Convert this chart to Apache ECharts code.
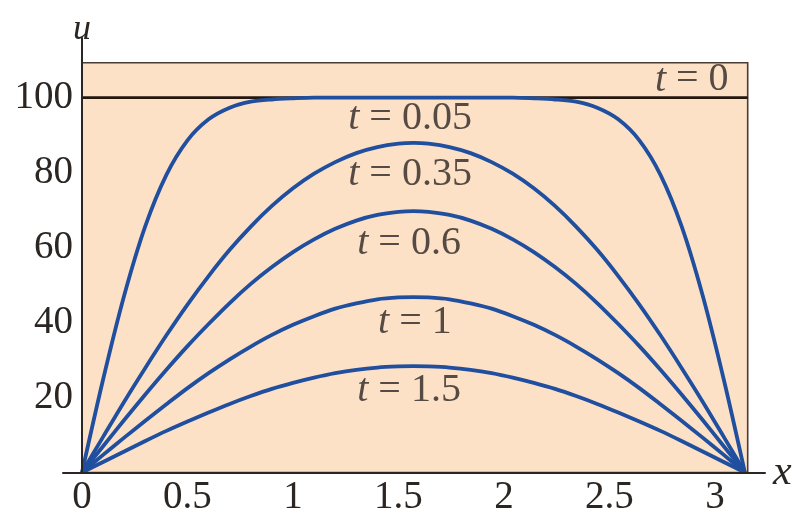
<!DOCTYPE html>
<html>
<head>
<meta charset="utf-8">
<script src="https://cdn.jsdelivr.net/npm/echarts@6/dist/echarts.min.js"></script>
<style>
  html, body { margin: 0; padding: 0; background: #ffffff; }
  #chart { width: 798px; height: 518px; }
</style>
</head>
<body>
<div id="chart"></div>
<script>
// Temperature u(x, t) along a rod 0 <= x <= pi, initial temperature 100
const xValues = [0, 0.1, 0.2, 0.3, 0.4, 0.5, 0.6, 0.7, 0.8, 0.9, 1.0, 1.1, 1.2, 1.3, 1.4, 1.5,
  1.5708,
  1.6416, 1.7416, 1.8416, 1.9416, 2.0416, 2.1416, 2.2416, 2.3416, 2.4416, 2.5416, 2.6416,
  2.7416, 2.8416, 2.9416, 3.0416, 3.1416];

const uT005 = [0, 24.8, 47.2, 65.7, 79.4, 88.6, 94.2, 97.3, 98.9, 99.5, 99.8, 100, 100, 100, 100, 100,
  100,
  100, 100, 100, 100, 100, 99.8, 99.5, 98.9, 97.3, 94.2, 88.6, 79.4, 65.7, 47.2, 24.8, 0];
const uT035 = [0, 9.5, 18.9, 27.9, 36.6, 44.8, 52.4, 59.4, 65.6, 71.1, 75.8, 79.7, 82.8, 85.2, 86.8, 87.7,
  87.9,
  87.7, 86.8, 85.2, 82.8, 79.7, 75.8, 71.1, 65.6, 59.4, 52.4, 44.8, 36.6, 27.9, 18.9, 9.5, 0];
const uT06 = [0, 7.0, 14.0, 20.8, 27.4, 33.7, 39.6, 45.2, 50.3, 54.8, 58.8, 62.2, 65.0, 67.2, 68.7, 69.5,
  69.7,
  69.5, 68.7, 67.2, 65.0, 62.2, 58.8, 54.8, 50.3, 45.2, 39.6, 33.7, 27.4, 20.8, 14.0, 7.0, 0];
const uT1 = [0, 4.7, 9.3, 13.8, 18.2, 22.5, 26.5, 30.2, 33.6, 36.7, 39.4, 41.7, 43.7, 45.1, 46.2, 46.7,
  46.8,
  46.7, 46.2, 45.1, 43.7, 41.7, 39.4, 36.7, 33.6, 30.2, 26.5, 22.5, 18.2, 13.8, 9.3, 4.7, 0];
const uT15 = [0, 2.8, 5.6, 8.4, 11.1, 13.6, 16.0, 18.3, 20.4, 22.3, 23.9, 25.3, 26.5, 27.4, 28.0, 28.3,
  28.4,
  28.3, 28.0, 27.4, 26.5, 25.3, 23.9, 22.3, 20.4, 18.3, 16.0, 13.6, 11.1, 8.4, 5.6, 2.8, 0];

const initialTemp = 100;
const timeLabels = ['0', '0.05', '0.35', '0.6', '1', '1.5'];
const xTickValues = [0, 0.5, 1, 1.5, 2, 2.5, 3];
const yTickValues = [20, 40, 60, 80, 100];

// ---- layout / styling ----
const FONT = "'Liberation Serif', 'Times New Roman', serif";
const TEXT_COLOR = '#2c2623';
const AXIS_COLOR = '#2b2623';
const CURVE_COLOR = '#1f4f9e';
const PANEL_COLOR = '#fce1c6';
const PANEL_X_MAX = 3.155;
const PANEL_Y_MAX = 109.3;
// where each curve's caption sits, in data units
const captionAnchors = [[2.89, 104.7], [1.555, 94.3], [1.555, 79.6], [1.55, 61.0], [1.578, 39.9], [1.55, 22.0]];

const curves = [uT005, uT035, uT06, uT1, uT15];

const pairs = ys => xValues.map((x, i) => [x, ys[i]]);

const series = [
  {
    name: 'panel',
    type: 'line',
    data: [],
    silent: true,
    z: 0,
    markArea: {
      silent: true,
      z: 0,
      itemStyle: { color: PANEL_COLOR, borderColor: '#4a3d35', borderWidth: 1.6 },
      data: [[{ coord: [0, 0] }, { coord: [PANEL_X_MAX, PANEL_Y_MAX] }]]
    }
  },
  {
    name: 't = 0',
    type: 'line',
    data: [[0, initialTemp], [PANEL_X_MAX, initialTemp]],
    symbol: 'none',
    lineStyle: { color: '#24170f', width: 2.6 },
    z: 3
  }
];

curves.forEach((ys, k) => {
  series.push({
    name: 't = ' + timeLabels[k + 1],
    type: 'line',
    data: pairs(ys),
    symbol: 'none',
    smooth: 0.3,
    lineStyle: { color: CURVE_COLOR, width: 3.8 },
    z: 4
  });
});

series.push({
  name: 'captions',
  type: 'scatter',
  symbolSize: 0,
  silent: true,
  z: 6,
  data: captionAnchors.map((c, i) => ({ value: c, caption: timeLabels[i] })),
  label: {
    show: true,
    position: 'inside',
    formatter: p => '{i|t} = ' + p.data.caption,
    fontFamily: FONT,
    fontSize: 40,
    color: TEXT_COLOR,
    rich: {
      i: { fontFamily: FONT, fontStyle: 'italic', fontSize: 40, color: TEXT_COLOR }
    }
  }
});

const chart = echarts.init(document.getElementById('chart'));
chart.setOption({
  animation: false,
  backgroundColor: '#ffffff',
  grid: { left: 63, right: 33, top: 38, bottom: 45.5, containLabel: false, outerBoundsMode: 'none' },
  xAxis: {
    type: 'value',
    min: -0.09,
    max: 3.237,
    z: 10,
    axisLine: { onZero: true, lineStyle: { color: AXIS_COLOR, width: 2 } },
    axisTick: { show: false },
    splitLine: { show: false },
    axisLabel: {
      customValues: xTickValues,
      margin: 6,
      fontFamily: FONT,
      fontSize: 39,
      color: TEXT_COLOR,
      formatter: v => String(v)
    },
    name: 'x',
    nameLocation: 'end',
    nameGap: 8,
    nameTextStyle: { fontFamily: FONT, fontStyle: 'italic', fontSize: 42, color: TEXT_COLOR, padding: [0, 0, 6, 0] }
  },
  yAxis: {
    type: 'value',
    min: 0,
    max: 115.9,
    z: 10,
    axisLine: { onZero: true, lineStyle: { color: AXIS_COLOR, width: 2 } },
    axisTick: { show: false },
    splitLine: { show: false },
    axisLabel: {
      customValues: yTickValues,
      margin: -10,
      fontFamily: FONT,
      fontSize: 39,
      color: TEXT_COLOR
    },
    name: 'u',
    nameLocation: 'end',
    nameGap: -10,
    nameTextStyle: { fontFamily: FONT, fontStyle: 'italic', fontSize: 36, color: TEXT_COLOR }
  },
  series: series
});
</script>
</body>
</html>
